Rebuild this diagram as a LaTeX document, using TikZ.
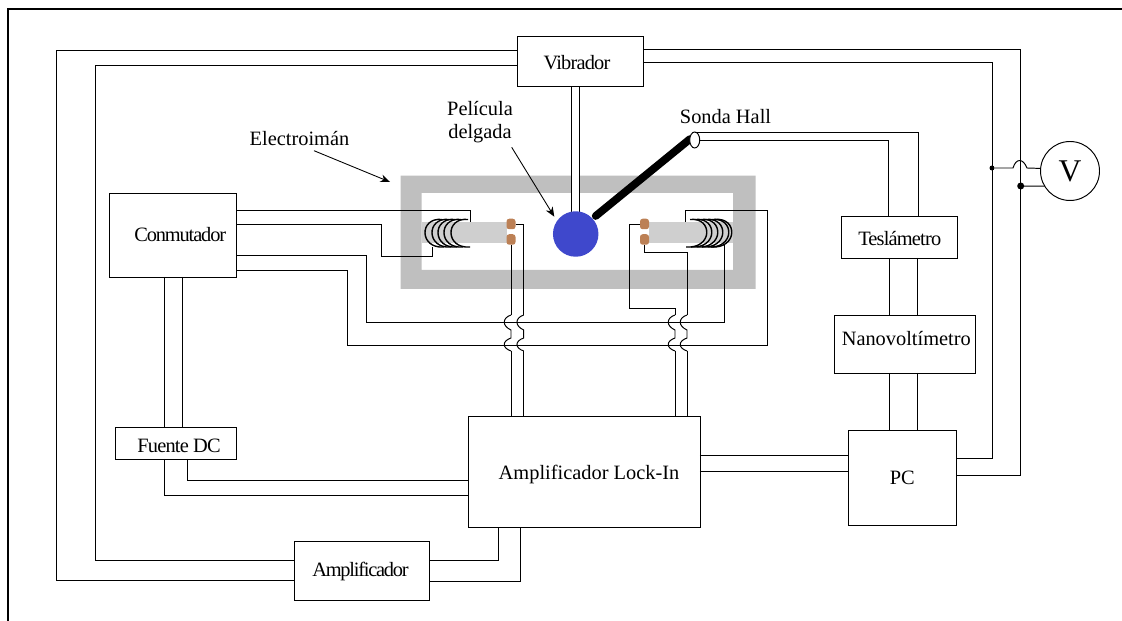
\documentclass[tikz,border=0pt]{standalone}
\usepackage{fontspec}
\setmainfont{Liberation Serif}
\usetikzlibrary{arrows.meta,shapes.geometric}
\tikzset{%
    caja/.style={draw,rectangle,inner sep=0pt,outer sep=0pt},
    tex/.style={font=\fontsize{11.6}{13}\selectfont},
    tec/.style={font=\fontsize{11.6}{13}\selectfont\addfontfeature{LetterSpace=#1}},
    cab/.style={line width = 0.55pt},
    bob/.style={line width = 0.8pt},
    gri/.style={fill=black!25},
    bar/.style={fill=black!19},
    con/.style={rectangle,rounded corners=1.5pt,minimum width=0.18cm,minimum height=0.21cm,inner sep=0pt,outer sep=0pt},
    pun/.style={circle,fill=black,inner sep=0pt,outer sep=0pt},
    fle/.style={line width=0.5pt,-{Stealth[length=5.5pt,width=4.5pt]}}
}
\definecolor{cobre}{RGB}{188,128,85}
\definecolor{azul}{RGB}{63,72,204}
\begin{document}
\begin{tikzpicture}[x=0.02cm,y=-0.02cm,line width=0.55pt,tex]
    \useasboundingbox (0,0) rectangle (1122,621);
    \draw [line width=1.7pt](8,621)--(8,9)--(1122,9);
    \fill [gri,even odd rule](400.7,175.7) rectangle (755.7,289) (421.7,193) rectangle (733,270);
    \fill [bar](421.7,222) rectangle (507,243);
    \fill [bar](649,222) rectangle (733,243);
    \foreach \xc in {424,431,437,443,450}
        \draw [bob](\xc+18,219.5) .. controls (\xc-5,217) and (\xc-5,249) .. (\xc+20,247);
    \foreach \xc in {733,730,724,719,713,708}
        \draw [bob](\xc-18,219.5) .. controls (\xc+5,217) and (\xc+5,249) .. (\xc-22,247);

    \node [caja,minimum width=2.52cm,minimum height=1cm,label={[tec=-4,xshift=-0.06cm,yshift=-0.04cm]center:Vibrador}] (vibrador) at (580,61) {};
    \node [caja,minimum width=2.54cm,minimum height=1.68cm,label={[tec=-5.5,xshift=0.14cm]center:Conmutador}] (conmutador) at (173.2,235) {};
    \node [caja,minimum width=2.42cm,minimum height=0.64cm,label={[tec=-4,xshift=0.07cm,yshift=-0.06cm]center:Fuente DC}] (fuente) at (175.5,443) {};
    \node [caja,minimum width=4.64cm,minimum height=2.22cm,label={[tex,xshift=0.1cm,yshift=-0.06cm]center:Amplificador Lock-In}] (lockin) at (584,471.5) {};
    \node [caja,minimum width=2.7cm,minimum height=1.18cm,label={[tec=-6,xshift=-0.03cm,yshift=-0.02cm]center:Amplificador}] (amplificador) at (362,570.5) {};
    \node [caja,minimum width=2.32cm,minimum height=0.84cm,label={[tec=-4,yshift=-0.04cm]center:Teslámetro}] (teslametro) at (899.7,237) {};
    \node [caja,minimum width=2.82cm,minimum height=1.16cm,label={[tex,xshift=0.02cm,yshift=0.1cm]center:Nanovoltímetro}] (nano) at (905.3,344) {};
    \node [caja,minimum width=2.16cm,minimum height=1.9cm,label={[tex]center:PC}] (pc) at (902.3,478) {};
    \node [draw,circle,minimum size=1.18cm,inner sep=0pt,outer sep=0pt,font=\fontsize{18}{20}\selectfont] (volt) at (1070,171) {V};

    \draw [cab](vibrador.west |- 0,50)-|(56.5,580.7)--(amplificador.west |- 0,580.7);
    \draw [cab](vibrador.west |- 0,65)-|(95.5,560)--(amplificador.west |- 0,560);
    \draw [cab](vibrador.east |- 0,49)-|(1020,475)--(pc.east |- 0,475);
    \draw [cab](vibrador.east |- 0,62)-|(992,458.3)--(pc.east |- 0,458.3);
    \draw [cab](amplificador.east |- 0,560.7)-|(498.6,527);
    \draw [cab](amplificador.east |- 0,581)-|(520,527);
    \draw [cab](conmutador.south -| 164,0)--(fuente.north -| 164,0);
    \draw [cab](conmutador.south -| 182,0)--(fuente.north -| 182,0);
    \draw [cab](fuente.south -| 164.5,0)|-(lockin.west |- 0,495);
    \draw [cab](fuente.south -| 187,0)|-(lockin.west |- 0,480.7);
    \draw [cab](lockin.east |- 0,455)--(pc.west |- 0,455);
    \draw [cab](lockin.east |- 0,471.7)--(pc.west |- 0,471.7);
    \draw [cab](teslametro.south -| 889.7,0)--(nano.north -| 889.7,0);
    \draw [cab](teslametro.south -| 917.3,0)--(nano.north -| 917.3,0);
    \draw [cab](nano.south -| 889.7,0)--(pc.north -| 889.7,0);
    \draw [cab](nano.south -| 917.3,0)--(pc.north -| 917.3,0);

    \draw [cab](conmutador.east |- 0,210.7)-|(470.3,222);
    \draw [cab](conmutador.east |- 0,224)-|(381,256.7)-|(432.3,247);
    \draw [cab](conmutador.east |- 0,255)-|(366,322.7)-|(724.7,245);
    \draw [cab](conmutador.east |- 0,270.7)-|(347,345)-|(767.3,210.7)-|(685,221.7);

    \node [con,fill=cobre] (conA) at (511,224) {};
    \node [con,fill=cobre] (conB) at (511,239.5) {};
    \node [con,fill=cobre] (conC) at (644.5,224) {};
    \node [con,fill=cobre] (conD) at (644.5,239.5) {};
    \draw [cab](conA.east)-|(523.7,315);
    \draw [cab](conB.south)--(511,315);
    \draw [cab](conC.west)-|(629.3,308)-|(675,315);
    \draw [cab](conD.south)--++(0,8)-|(687,315);
    \foreach \xh in {511,523.7,675,687}{
        \draw [cab](\xh,315) .. controls (\xh-9,318) and (\xh-9,326) .. (\xh,330)--(\xh,338) .. controls (\xh-9,341) and (\xh-9,348) .. (\xh,351);
        \draw [cab](\xh,351)--(lockin.north -| \xh,0);
    }

    \draw [cab,fill=white](571.3,86) rectangle (579,215);
    \node [circle,fill=azul,minimum size=0.91cm,inner sep=0pt,outer sep=0pt] (pelicula) at (575.7,234) {};
    \coordinate (pr) at (595.7,216);
    \draw [line width=4.4pt,line cap=round](pr)--(690,139);
    \node [draw,ellipse,fill=white,minimum width=0.2cm,minimum height=0.32cm,inner sep=0pt,outer sep=0pt] (sonda) at (694.7,140) {};
    \draw [cab](sonda.north)-|(teslametro.north -| 918,0);
    \draw [cab](sonda.east)-|(teslametro.north -| 888.7,0);

    \node [pun,minimum size=0.1cm] (dotA) at (992,168) {};
    \node [pun,minimum size=0.14cm] (dotB) at (1020.7,186) {};
    \draw [cab](dotA)--(1013,168) .. controls (1016,158) and (1023,158) .. (1027,168)--(volt.175);
    \draw [cab](dotB)--(volt.211);

    \node [tex] (electroiman) at (299.5,139) {Electroimán};
    \node [tex,align=center] (etiqpel) at (480,122) {Película\\delgada};
    \node [tex] (etiqsonda) at (725.5,117) {Sonda Hall};
    \coordinate (fe) at (390,182);
    \coordinate (fp) at (554.3,216.7);
    \draw [fle](314,150.7)--(fe);
    \draw [fle](511.7,147.3)--(fp);
\end{tikzpicture}
\end{document}
